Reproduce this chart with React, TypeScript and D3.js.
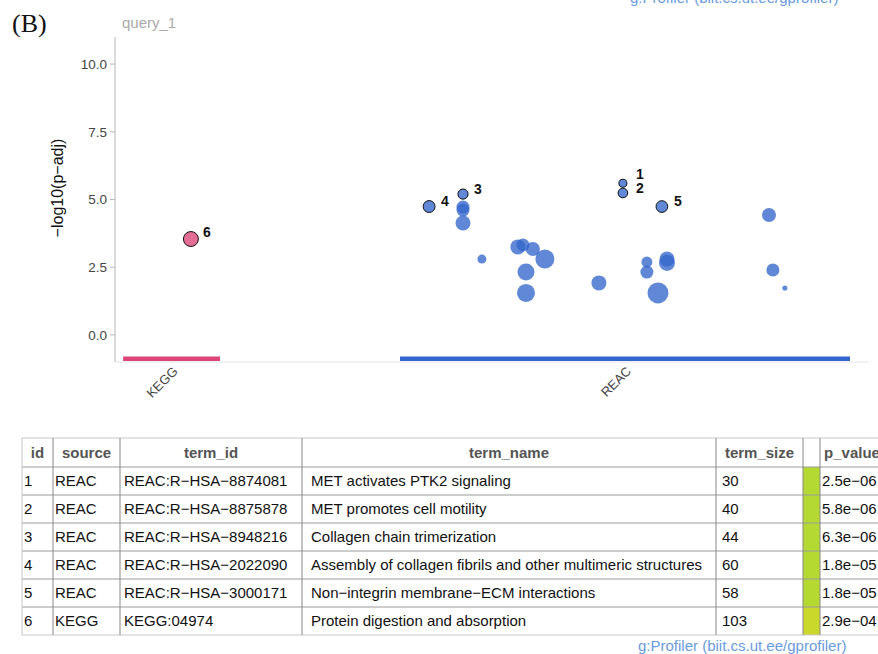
import React from 'react';
import * as d3 from 'd3';

// source tracks along the x axis (x units)
const sources = ['KEGG', 'REAC'];
const sourceStart = [2.7, 95];
const sourceEnd = [35, 245];
const sourceColors = ['#dd4477', '#3366cc'];

// points: source, x position, -log10(p-adj), term size, label id ('' = none)
const pointSource = [
  'REAC', 'REAC', 'REAC', 'REAC', 'REAC', 'REAC', 'REAC', 'REAC', 'REAC', 'REAC',
  'REAC', 'REAC', 'REAC', 'REAC', 'REAC', 'REAC', 'REAC', 'REAC', 'REAC',
  'REAC', 'REAC', 'REAC', 'REAC', 'REAC', 'KEGG',
];
const pointX = [116, 116, 116, 122.3, 134.3, 136, 139.3, 143.3, 137, 137, 161.3, 177.3, 177.3, 184, 184, 181, 218, 219.3, 223.3, 104.7, 116, 169.3, 169.3, 182.3, 25.3];
const pointY = [4.72, 4.61, 4.13, 2.8, 3.25, 3.32, 3.17, 2.8, 2.32, 1.55, 1.92, 2.69, 2.32, 2.8, 2.66, 1.55, 4.43, 2.4, 1.73, 4.74, 5.2, 5.6, 5.24, 4.74, 3.54];
const pointSize = [73, 73, 104, 36, 104, 73, 87, 210, 147, 176, 104, 51, 73, 104, 124, 300, 87, 73, 18, 60, 44, 30, 40, 58, 103];
const pointLabel = ['', '', '', '', '', '', '', '', '', '', '', '', '', '', '', '', '', '', '', '4', '3', '1', '2', '5', '6'];

const yTicks = [0, 2.5, 5, 7.5, 10];

// table
const ids = ['1', '2', '3', '4', '5', '6'];
const tableSource = ['REAC', 'REAC', 'REAC', 'REAC', 'REAC', 'KEGG'];
const termIds = ['REAC:R\u2212HSA\u22128874081', 'REAC:R\u2212HSA\u22128875878', 'REAC:R\u2212HSA\u22128948216', 'REAC:R\u2212HSA\u22122022090', 'REAC:R\u2212HSA\u22123000171', 'KEGG:04974'];
const termNames = ['MET activates PTK2 signaling', 'MET promotes cell motility', 'Collagen chain trimerization', 'Assembly of collagen fibrils and other multimeric structures', 'Non\u2212integrin membrane\u2212ECM interactions', 'Protein digestion and absorption'];
const termSizes = ['30', '40', '44', '60', '58', '103'];
const pValues = ['2.5e\u221206', '5.8e\u221206', '6.3e\u221206', '1.8e\u221205', '1.8e\u221205', '2.9e\u221204'];
const pColors = ['#b3d932', '#b3d932', '#b3d932', '#b5d930', '#b5d930', '#cad82b'];
const headers = ['id', 'source', 'term_id', 'term_name', 'term_size', '', 'p_value'];

const FONT = 'Liberation Sans, Arial, sans-serif';

const App = () => {
  const W = 878;
  const H = 654;

  const x = d3.scaleLinear().domain([0, 250]).range([115, 865]);
  const y = d3.scaleLinear().domain([-1, 11]).range([362, 37]);
  const r = d3.scaleLog().domain([10, 1000]).range([0.9, 13.9]);
  const color = d3.scaleOrdinal<string, string>().domain(sources).range(sourceColors);

  // repelled label offsets
  const labelOffset: Record<string, [number, number]> = {
    '1': [13, -4],
    '2': [13, 0],
    '3': [11, 0],
    '4': [12, -1],
    '5': [12, -1],
    '6': [12, -2],
  };

  // table geometry
  const colEdges = [22, 53, 120, 302, 716, 803, 820, 884];
  const tableTop = 438;
  const headerH = 29;
  const rowH = 28;
  const rowTop = (i: number) => tableTop + headerH + i * rowH;
  const tableBottom = rowTop(ids.length);
  const rows = ids.map((id, i) => [id, tableSource[i], termIds[i], termNames[i], termSizes[i], '', pValues[i]]);
  const padLeft = [2, 2, 4, 9, 6, 0, 2];

  const pts = pointX.map((px, i) => ({
    x: px,
    y: pointY[i],
    size: pointSize[i],
    source: pointSource[i],
    label: pointLabel[i],
  }));

  return (
    <div style={{ position: 'fixed', left: 0, top: 0, width: W, height: H, background: '#fff' }}>
      <svg width={W} height={H} style={{ display: 'block', overflow: 'hidden' }}>
        <text x={12} y={32} fontFamily="Liberation Serif, Times New Roman, serif" fontSize={26} fill="#111">(B)</text>
        <text x={630} y={3} fontFamily={FONT} fontSize={15} fill="#6a9be0">g:Profiler (biit.cs.ut.ee/gprofiler)</text>
        <text x={122} y={28} fontFamily={FONT} fontSize={15} fill="#aaa">query_1</text>

        {/* axes */}
        <line x1={115} x2={115} y1={y(11)} y2={y(-1)} stroke="#cfcfcf" strokeWidth={1.5} />
        <line x1={115} x2={868} y1={y(-1)} y2={y(-1)} stroke="#e4e4e4" strokeWidth={1} />
        {yTicks.map((t) => (
          <g key={t}>
            <line x1={110} x2={115} y1={y(t)} y2={y(t)} stroke="#bbb" />
            <text x={107} y={y(t)} dy="0.35em" textAnchor="end" fontFamily={FONT} fontSize={13.5} fill="#444">
              {d3.format('.1f')(t)}
            </text>
          </g>
        ))}
        <text transform={`translate(63,188) rotate(-90)`} textAnchor="middle" fontFamily={FONT} fontSize={16} fill="#111">
          {'\u2212log10(p\u2212adj)'}
        </text>

        {/* source tracks */}
        {sources.map((s, i) => (
          <g key={s}>
            <rect x={x(sourceStart[i])} y={356.5} width={x(sourceEnd[i]) - x(sourceStart[i])} height={4.5} fill={color(s)} />
            <text
              transform={`translate(${(x(sourceStart[i]) + x(sourceEnd[i])) / 2 + 7},${372}) rotate(-45)`}
              textAnchor="end"
              fontFamily={FONT}
              fontSize={13}
              fill="#444"
            >
              {s}
            </text>
          </g>
        ))}

        {/* points */}
        {pts.map((p, i) => (
          <circle
            key={i}
            cx={x(p.x)}
            cy={y(p.y)}
            r={r(p.size)}
            fill={color(p.source)}
            fillOpacity={0.78}
            stroke={p.label ? '#111' : 'none'}
            strokeWidth={1}
          />
        ))}
        {pts.filter((p) => p.label).map((p) => (
          <text
            key={p.label}
            x={x(p.x) + labelOffset[p.label][0]}
            y={y(p.y) + labelOffset[p.label][1]}
            fontFamily={FONT}
            fontSize={14}
            fontWeight="bold"
            fill="#111"
          >
            {p.label}
          </text>
        ))}

        {/* table */}
        {pColors.map((c, i) => (
          <rect key={i} x={colEdges[5]} y={rowTop(i)} width={colEdges[6] - colEdges[5]} height={rowH} fill={c} />
        ))}
        <line x1={colEdges[0]} x2={W} y1={tableTop} y2={tableTop} stroke="#c8c8c8" />
        {ids.map((_, i) => (
          <line key={i} x1={colEdges[0]} x2={W} y1={rowTop(i)} y2={rowTop(i)} stroke="#9a9a9a" />
        ))}
        <line x1={colEdges[0]} x2={W} y1={tableBottom} y2={tableBottom} stroke="#c8c8c8" />
        {colEdges.slice(0, 7).map((cx, i) => (
          <line key={i} x1={cx} x2={cx} y1={tableTop} y2={tableBottom} stroke={i === 0 ? '#c8c8c8' : '#888'} />
        ))}
        {headers.map((h, i) => (
          <text
            key={i}
            x={(colEdges[i] + colEdges[i + 1]) / 2}
            y={tableTop + headerH / 2 + 5}
            textAnchor="middle"
            fontFamily={FONT}
            fontSize={15}
            fontWeight="bold"
            fill="#555"
          >
            {h}
          </text>
        ))}
        {rows.map((row, i) =>
          row.map((cell, j) => (
            <text
              key={`${i}-${j}`}
              x={colEdges[j] + padLeft[j]}
              y={rowTop(i) + rowH / 2 + 5}
              fontFamily={FONT}
              fontSize={15}
              fill="#111"
            >
              {cell}
            </text>
          ))
        )}
        <text x={638} y={651} fontFamily={FONT} fontSize={15} fill="#6a9be0">g:Profiler (biit.cs.ut.ee/gprofiler)</text>
      </svg>
    </div>
  );
};

export default App;
